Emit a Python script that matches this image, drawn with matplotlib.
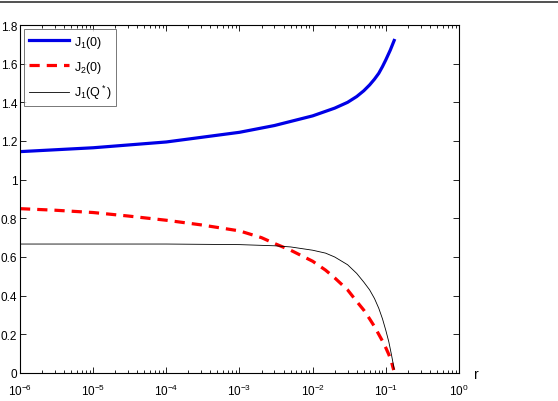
import matplotlib
matplotlib.use("Agg")
import matplotlib.pyplot as plt
from matplotlib.lines import Line2D

plt.rcParams["font.family"] = ["Liberation Sans", "DejaVu Sans"]
plt.rcParams["mathtext.fontset"] = "custom"
plt.rcParams["mathtext.rm"] = "Liberation Sans"

# values
r_blue = [1e-6, 1e-5, 1e-4, 1e-3, 3e-3, 1e-2, 2e-2, 3e-2, 4e-2, 5e-2, 6e-2, 7e-2, 8e-2,
          9e-2, 1e-1, 1.15e-1, 1.3e-1]
j1_0 = [1.145, 1.165, 1.195, 1.245, 1.28, 1.33, 1.37, 1.40, 1.43, 1.46, 1.49, 1.52, 1.55,
        1.585, 1.62, 1.67, 1.72]

r_red = [1e-6, 3e-6, 1e-5, 3e-5, 1e-4, 3e-4, 1e-3, 2e-3, 3e-3, 5e-3, 1e-2, 1.5e-2, 2e-2,
         3e-2, 4e-2, 5e-2, 6e-2, 7e-2, 8e-2, 9e-2, 1e-1, 1.1e-1, 1.2e-1, 1.28e-1]
j2_0 = [0.85, 0.842, 0.83, 0.812, 0.79, 0.766, 0.735, 0.70, 0.67, 0.635, 0.578, 0.532, 0.492,
        0.43, 0.37, 0.325, 0.28, 0.24, 0.2, 0.165, 0.13, 0.095, 0.055, 0.015]

r_black = [1e-6, 1e-4, 1e-3, 3e-3, 5e-3, 1e-2, 1.5e-2, 2e-2, 3e-2, 4e-2, 5e-2, 6e-2, 7e-2,
           8e-2, 9e-2, 1e-1, 1.1e-1, 1.2e-1, 1.3e-1]
j1_q = [0.667, 0.667, 0.664, 0.658, 0.652, 0.635, 0.62, 0.6, 0.56, 0.515, 0.47, 0.43, 0.385,
        0.335, 0.28, 0.22, 0.16, 0.09, 0.02]

labels = [r"$\mathregular{J_1(0)}$", r"$\mathregular{J_2(0)}$", r"$\mathregular{J_1(Q^*)}$"]
yticks = [0, 0.2, 0.4, 0.6, 0.8, 1, 1.2, 1.4, 1.6, 1.8]
yticklabels = ["0", "0.2", "0.4", "0.6", "0.8", "1", "1.2", "1.4", "1.6", "1.8"]

fig = plt.figure(figsize=(5.58, 4.02), dpi=100)
ax = fig.add_axes([0.0358, 0.0697, 0.7868, 0.8656])

ax.plot(r_blue, j1_0, color="#0000e6", lw=2.3, label=labels[0])
ax.plot(r_red, j2_0, color="#ff0000", lw=2.3, ls=(0, (3.2, 2.2)), label=labels[1])
ax.plot(r_black, j1_q, color="black", lw=0.6, label=labels[2])

ax.set_xscale("log")
ax.set_xlim(1e-6, 1)
ax.set_ylim(0, 1.8)
ax.set_yticks(yticks)
ax.set_yticklabels(yticklabels)
ax.set_xticks([1e-6, 1e-5, 1e-4, 1e-3, 1e-2, 1e-1, 1])

ax.tick_params(which="both", direction="in", top=True, right=True, labelsize=8.5)
ax.tick_params(axis="y", pad=2)
ax.tick_params(axis="x", pad=7)
ax.tick_params(which="major", length=4, width=0.6)
ax.tick_params(which="minor", length=2, width=0.6)
for s in ax.spines.values():
    s.set_linewidth(0.8)

ax.text(1.035, -0.004, "r", transform=ax.transAxes, fontsize=10, va="center", ha="left")

leg = ax.legend(loc="upper left", fontsize=9, frameon=True, fancybox=False,
                edgecolor="#555555", handlelength=3.2, borderaxespad=0.35,
                labelspacing=0.7, handletextpad=0.4, borderpad=0.35)
leg.get_frame().set_linewidth(0.7)

# separator rule along the top of the page
fig.add_artist(Line2D([0, 1], [0.992, 0.992], transform=fig.transFigure, color="#333333", lw=1.2))

fig.savefig("out.png", dpi=100)
